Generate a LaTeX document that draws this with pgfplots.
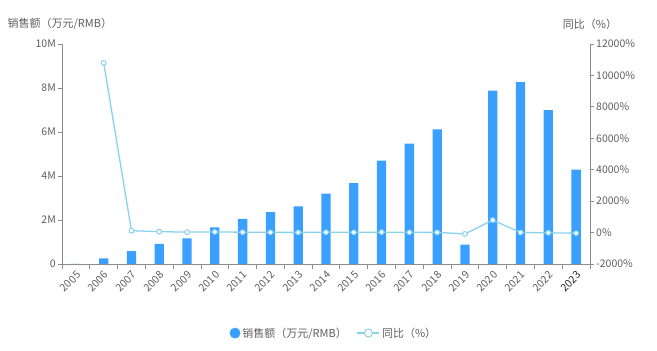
\documentclass[border=0pt]{standalone}
\usepackage{pgfplots}
\pgfplotsset{compat=1.18}
\usepackage{fontspec}
\setmainfont{Noto Sans CJK SC}
\definecolor{barblue}{HTML}{3AA0FF}
\definecolor{linecol}{HTML}{88D2EE}
\definecolor{axgray}{HTML}{8C8C8C}
\definecolor{txtgray}{HTML}{5E5E5E}
\begin{document}
\begin{tikzpicture}
\begin{axis}[
  scale only axis, width=528pt, height=220pt,
  xmin=-0.5, xmax=18.5, ymin=0, ymax=10,
  axis x line*=bottom, axis y line*=left,
  axis line style={axgray, line width=0.8pt, -},
  xtick={0,...,18},
  xticklabels={2005,2006,2007,2008,2009,2010,2011,2012,2013,2014,2015,2016,2017,2018,2019,2020,2021,2022,{\color{black!85}2023}},
  minor xtick={-0.5,0.5,...,18.5},
  major x tick style={draw=none},
  minor x tick style={axgray, line width=0.8pt},
  minor tick length=5pt,
  major tick length=4pt,
  tick align=outside,
  y tick style={axgray, line width=0.8pt},
  ytick={0,2,4,6,8,10},
  yticklabels={0,2M,4M,6M,8M,10M},
  ticklabel style={font=\fontsize{10.5}{12}\selectfont, text=txtgray},
  xticklabel style={rotate=45, anchor=north east, inner sep=1.5pt},
  yticklabel style={inner sep=2pt},
  /pgf/number format/assume math mode=true,
  ybar, bar width=9.3pt,
  clip=false,
]
\addplot[fill=barblue, draw=none] coordinates {
(0,0.0024) (1,0.26) (2,0.58) (3,0.91) (4,1.17) (5,1.67) (6,2.05) (7,2.36) (8,2.62) (9,3.2)
(10,3.68) (11,4.7) (12,5.47) (13,6.12) (14,0.88) (15,7.88) (16,8.27) (17,6.99) (18,4.29)};
\node[font=\fontsize{11}{13}\selectfont, text=txtgray] at (rel axis cs:-0.004,1.09) {销售额（万元/RMB）};
\end{axis}
\begin{axis}[
  scale only axis, width=528pt, height=220pt,
  xmin=-0.5, xmax=18.5, ymin=-2000, ymax=12000,
  axis x line=none, axis y line*=right,
  axis line style={axgray, line width=0.8pt, -},
  ytick={-2000,0,2000,4000,6000,8000,10000,12000},
  scaled y ticks=false,
  yticklabel={\pgfmathprintnumber{\tick}\%},
  /pgf/number format/set thousands separator={},
  /pgf/number format/fixed,
  /pgf/number format/assume math mode=true,
  tick align=outside, major tick length=4pt,
  y tick style={axgray, line width=0.8pt},
  ticklabel style={font=\fontsize{10.5}{12}\selectfont, text=txtgray},
  yticklabel style={inner sep=2pt},
  clip=false,
  legend style={at={(rel axis cs:0.515,-0.314)}, anchor=center, draw=none, fill=none,
    legend columns=2, font=\fontsize{11}{13}\selectfont, text=txtgray,
    /tikz/every even column/.append style={column sep=8pt}},
]
\addlegendimage{legend image code/.code={\fill[barblue] (0.3cm,0) circle (5.2pt);}}
\addlegendentry{销售额（万元/RMB）}
\addplot[color=linecol, line width=1.3pt, mark=*, mark size=2.4pt,
  mark options={fill=white, draw=linecol, line width=1pt},
  legend image code/.code={\draw[linecol, line width=1.2pt] (0,0)--(22pt,0);
    \draw[linecol, fill=white, line width=1pt] (11pt,0) circle (4pt);}] coordinates {
(1,10800) (2,120) (3,57) (4,29) (5,43) (6,23) (7,15) (8,11) (9,22) (10,15)
(11,28) (12,16) (13,12) (14,-86) (15,795) (16,5) (17,-15) (18,-39)};
\addlegendentry{同比（\%）}
\node[font=\fontsize{11}{13}\selectfont, text=txtgray] at (rel axis cs:1.0,1.09) {同比（\%）};
\end{axis}
\pgfresetboundingbox
\path[use as bounding box] (-62pt,-87pt) rectangle ++(657pt,351pt);
\end{tikzpicture}
\end{document}
